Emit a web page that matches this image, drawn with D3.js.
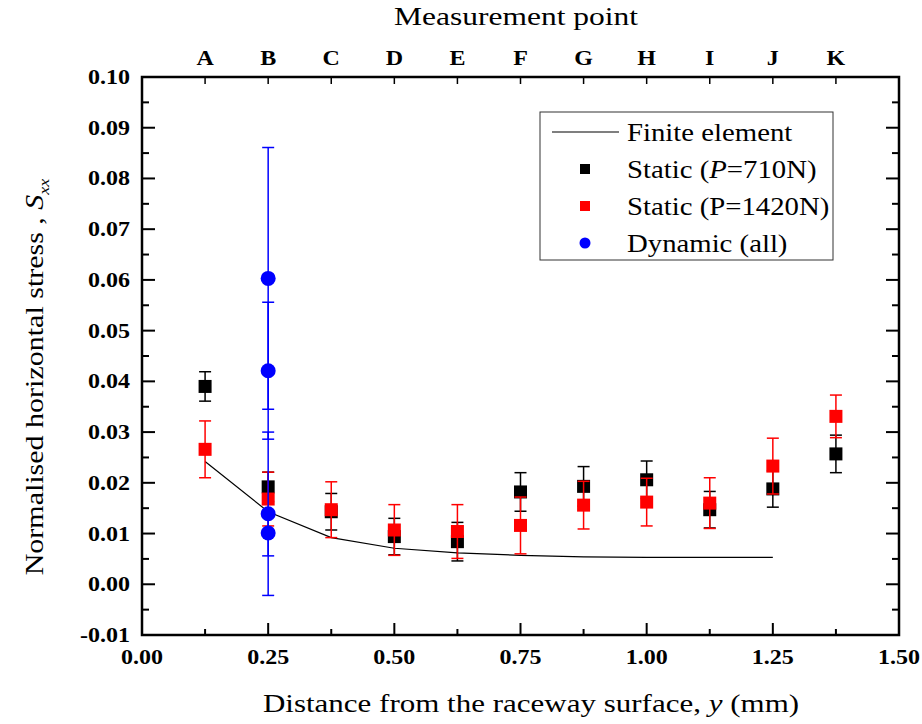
<!DOCTYPE html>
<html>
<head>
<meta charset="utf-8">
<script src="https://cdn.jsdelivr.net/npm/d3@7"></script>
<style>
  html, body { margin: 0; padding: 0; background: #fff; }
  svg { display: block; }
  text { font-family: "Liberation Serif", "Times New Roman", serif; fill: #000; }
</style>
</head>
<body>
<svg id="chart" width="922" height="724"></svg>
<script>
// Measurement points along the depth below the raceway surface
const pointLabels = ["A", "B", "C", "D", "E", "F", "G", "H", "I", "J", "K"];
const depths = [0.125, 0.25, 0.375, 0.5, 0.625, 0.75, 0.875, 1.0, 1.125, 1.25, 1.375];

// Finite element prediction (points A to J)
const feValues = [0.0242, 0.0143, 0.0092, 0.0071, 0.0062, 0.0057, 0.0054, 0.0053, 0.0053, 0.0053];

// Static tests, P = 710 N
const static710 = [0.0390, 0.0192, 0.0143, 0.0094, 0.0084, 0.0182, 0.0193, 0.0206, 0.0147, 0.0188, 0.0257];
const static710Err = [0.0029, 0.0029, 0.0036, 0.0036, 0.0038, 0.0038, 0.0039, 0.0037, 0.0036, 0.0036, 0.0037];

// Static tests, P = 1420 N
const static1420 = [0.0266, 0.0168, 0.0147, 0.0107, 0.0104, 0.0116, 0.0156, 0.0162, 0.0160, 0.0233, 0.0331];
const static1420Err = [0.0056, 0.0053, 0.0055, 0.0050, 0.0053, 0.0056, 0.0047, 0.0047, 0.0050, 0.0055, 0.0042];

// Dynamic tests (all measured at point B)
const dynamicDepth = [0.25, 0.25, 0.25, 0.25];
const dynamicValues = [0.0603, 0.0421, 0.0139, 0.0101];
const dynamicErr = [0.0258, 0.0135, 0.0161, 0.0045];

const xTicks = [0, 0.25, 0.5, 0.75, 1.0, 1.25, 1.5];
const yTicks = [-0.01, 0, 0.01, 0.02, 0.03, 0.04, 0.05, 0.06, 0.07, 0.08, 0.09, 0.10];

const svg = d3.select("#chart");
const plot = { left: 142, right: 899, top: 77, bottom: 635 };

const x = d3.scaleLinear().domain([0, 1.5]).range([plot.left, plot.right]);
const y = d3.scaleLinear().domain([-0.01, 0.10]).range([plot.bottom, plot.top]);

// place text at (px, py), widened horizontally by sx
function stretched(sel, px, py, sx) {
  return sel.attr("transform", `translate(${px},${py}) scale(${sx},1)`);
}

// Axes with inward ticks
const minorX = d3.range(0.125, 1.5, 0.25);
const minorY = d3.range(-0.005, 0.1, 0.01);

const gAxes = svg.append("g").attr("stroke", "#000");

gAxes.append("g").selectAll("line").data(xTicks).join("line")
  .attr("x1", d => x(d)).attr("x2", d => x(d))
  .attr("y1", plot.bottom).attr("y2", plot.bottom - 12)
  .attr("stroke-width", 2);
gAxes.append("g").selectAll("line").data(minorX).join("line")
  .attr("x1", d => x(d)).attr("x2", d => x(d))
  .attr("y1", plot.bottom).attr("y2", plot.bottom - 6)
  .attr("stroke-width", 2);
// top ticks at the measurement points
gAxes.append("g").selectAll("line").data(depths).join("line")
  .attr("x1", d => x(d)).attr("x2", d => x(d))
  .attr("y1", plot.top).attr("y2", plot.top + 7)
  .attr("stroke-width", 1.5);
[[plot.left, 1], [plot.right, -1]].forEach(([edge, dir]) => {
  gAxes.append("g").selectAll("line").data(yTicks).join("line")
    .attr("x1", edge).attr("x2", edge + dir * 13)
    .attr("y1", d => y(d)).attr("y2", d => y(d))
    .attr("stroke-width", 2);
  gAxes.append("g").selectAll("line").data(minorY).join("line")
    .attr("x1", edge).attr("x2", edge + dir * 7)
    .attr("y1", d => y(d)).attr("y2", d => y(d))
    .attr("stroke-width", 2);
});

// frame
svg.append("rect")
  .attr("x", plot.left).attr("y", plot.top)
  .attr("width", plot.right - plot.left).attr("height", plot.bottom - plot.top)
  .attr("fill", "none").attr("stroke", "#000").attr("stroke-width", 2.5);

// tick labels
const fmt = d3.format(".2f");
svg.append("g").selectAll("text").data(yTicks).join("text")
  .each(function (d) { stretched(d3.select(this), 130, y(d) + 7, 1.2); })
  .attr("text-anchor", "end").attr("font-size", 20).attr("font-weight", "bold")
  .text(d => d < 0 ? "-" + fmt(-d) : fmt(d));
svg.append("g").selectAll("text").data(xTicks).join("text")
  .each(function (d) { stretched(d3.select(this), x(d), 664, 1.2); })
  .attr("text-anchor", "middle").attr("font-size", 20).attr("font-weight", "bold")
  .text(d => fmt(d));
svg.append("g").selectAll("text").data(pointLabels).join("text")
  .each(function (d, i) { stretched(d3.select(this), x(depths[i]), 65, 1.2); })
  .attr("text-anchor", "middle").attr("font-size", 20).attr("font-weight", "bold")
  .text(d => d);

// axis titles
const xTitle = stretched(svg.append("text"), 531, 712, 1.24)
  .attr("text-anchor", "middle").attr("font-size", 25);
xTitle.append("tspan").text("Distance from the raceway surface, ");
xTitle.append("tspan").attr("font-style", "italic").text("y");
xTitle.append("tspan").text(" (mm)");

stretched(svg.append("text"), 516, 25, 1.26)
  .attr("text-anchor", "middle").attr("font-size", 25)
  .text("Measurement point");

const yTitle = svg.append("text")
  .attr("transform", "translate(43,377) rotate(-90) scale(1.2,1)")
  .attr("text-anchor", "middle").attr("font-size", 25);
yTitle.append("tspan").text("Normalised horizontal stress , ");
yTitle.append("tspan").attr("font-style", "italic").text("S");
yTitle.append("tspan").attr("font-style", "italic").attr("font-size", 15)
  .attr("dy", 6).text("xx");

// finite element line
const feLine = d3.line().x((d, i) => x(depths[i])).y(d => y(d));
svg.append("path").datum(feValues)
  .attr("d", feLine).attr("fill", "none")
  .attr("stroke", "#000").attr("stroke-width", 1.2);

// error bars with caps
function errorBars(xs, vals, errs, color) {
  const g = svg.append("g").attr("stroke", color).attr("stroke-width", 1.5);
  vals.forEach((v, i) => {
    const cx = x(xs[i]);
    const yt = y(v + errs[i]), yb = y(v - errs[i]);
    g.append("line").attr("x1", cx).attr("x2", cx).attr("y1", yt).attr("y2", yb);
    g.append("line").attr("x1", cx - 6).attr("x2", cx + 6).attr("y1", yt).attr("y2", yt);
    g.append("line").attr("x1", cx - 6).attr("x2", cx + 6).attr("y1", yb).attr("y2", yb);
  });
}
function squares(xs, vals, color) {
  svg.append("g").selectAll("rect").data(vals).join("rect")
    .attr("x", (d, i) => x(xs[i]) - 6.5).attr("y", d => y(d) - 6.5)
    .attr("width", 13).attr("height", 13).attr("fill", color);
}

errorBars(depths, static710, static710Err, "#000");
squares(depths, static710, "#000");
errorBars(depths, static1420, static1420Err, "#ff0000");
squares(depths, static1420, "#ff0000");
errorBars(dynamicDepth, dynamicValues, dynamicErr, "#0000ff");
svg.append("g").selectAll("circle").data(dynamicValues).join("circle")
  .attr("cx", (d, i) => x(dynamicDepth[i])).attr("cy", d => y(d))
  .attr("r", 7.5).attr("fill", "#0000ff");

// legend
const lg = svg.append("g");
lg.append("rect").attr("x", 540).attr("y", 112).attr("width", 293).attr("height", 148)
  .attr("fill", "#fff").attr("stroke", "#333").attr("stroke-width", 1);
const rowY = [132, 169, 206, 243];
lg.append("line").attr("x1", 552).attr("x2", 619).attr("y1", rowY[0]).attr("y2", rowY[0])
  .attr("stroke", "#000").attr("stroke-width", 1.2);
lg.append("rect").attr("x", 580).attr("y", rowY[1] - 5).attr("width", 10).attr("height", 10).attr("fill", "#000");
lg.append("rect").attr("x", 580).attr("y", rowY[2] - 5).attr("width", 10).attr("height", 10).attr("fill", "#ff0000");
lg.append("circle").attr("cx", 585).attr("cy", rowY[3]).attr("r", 5.5).attr("fill", "#0000ff");

const legendTexts = [
  [["Finite element", false]],
  [["Static (", false], ["P", true], ["=710N)", false]],
  [["Static (P=1420N)", false]],
  [["Dynamic (all)", false]]
];
legendTexts.forEach((parts, i) => {
  const t = stretched(lg.append("text"), 627, rowY[i] + 9, 1.15).attr("font-size", 25);
  parts.forEach(([s, it]) => t.append("tspan").attr("font-style", it ? "italic" : "normal").text(s));
});
</script>
</body>
</html>
